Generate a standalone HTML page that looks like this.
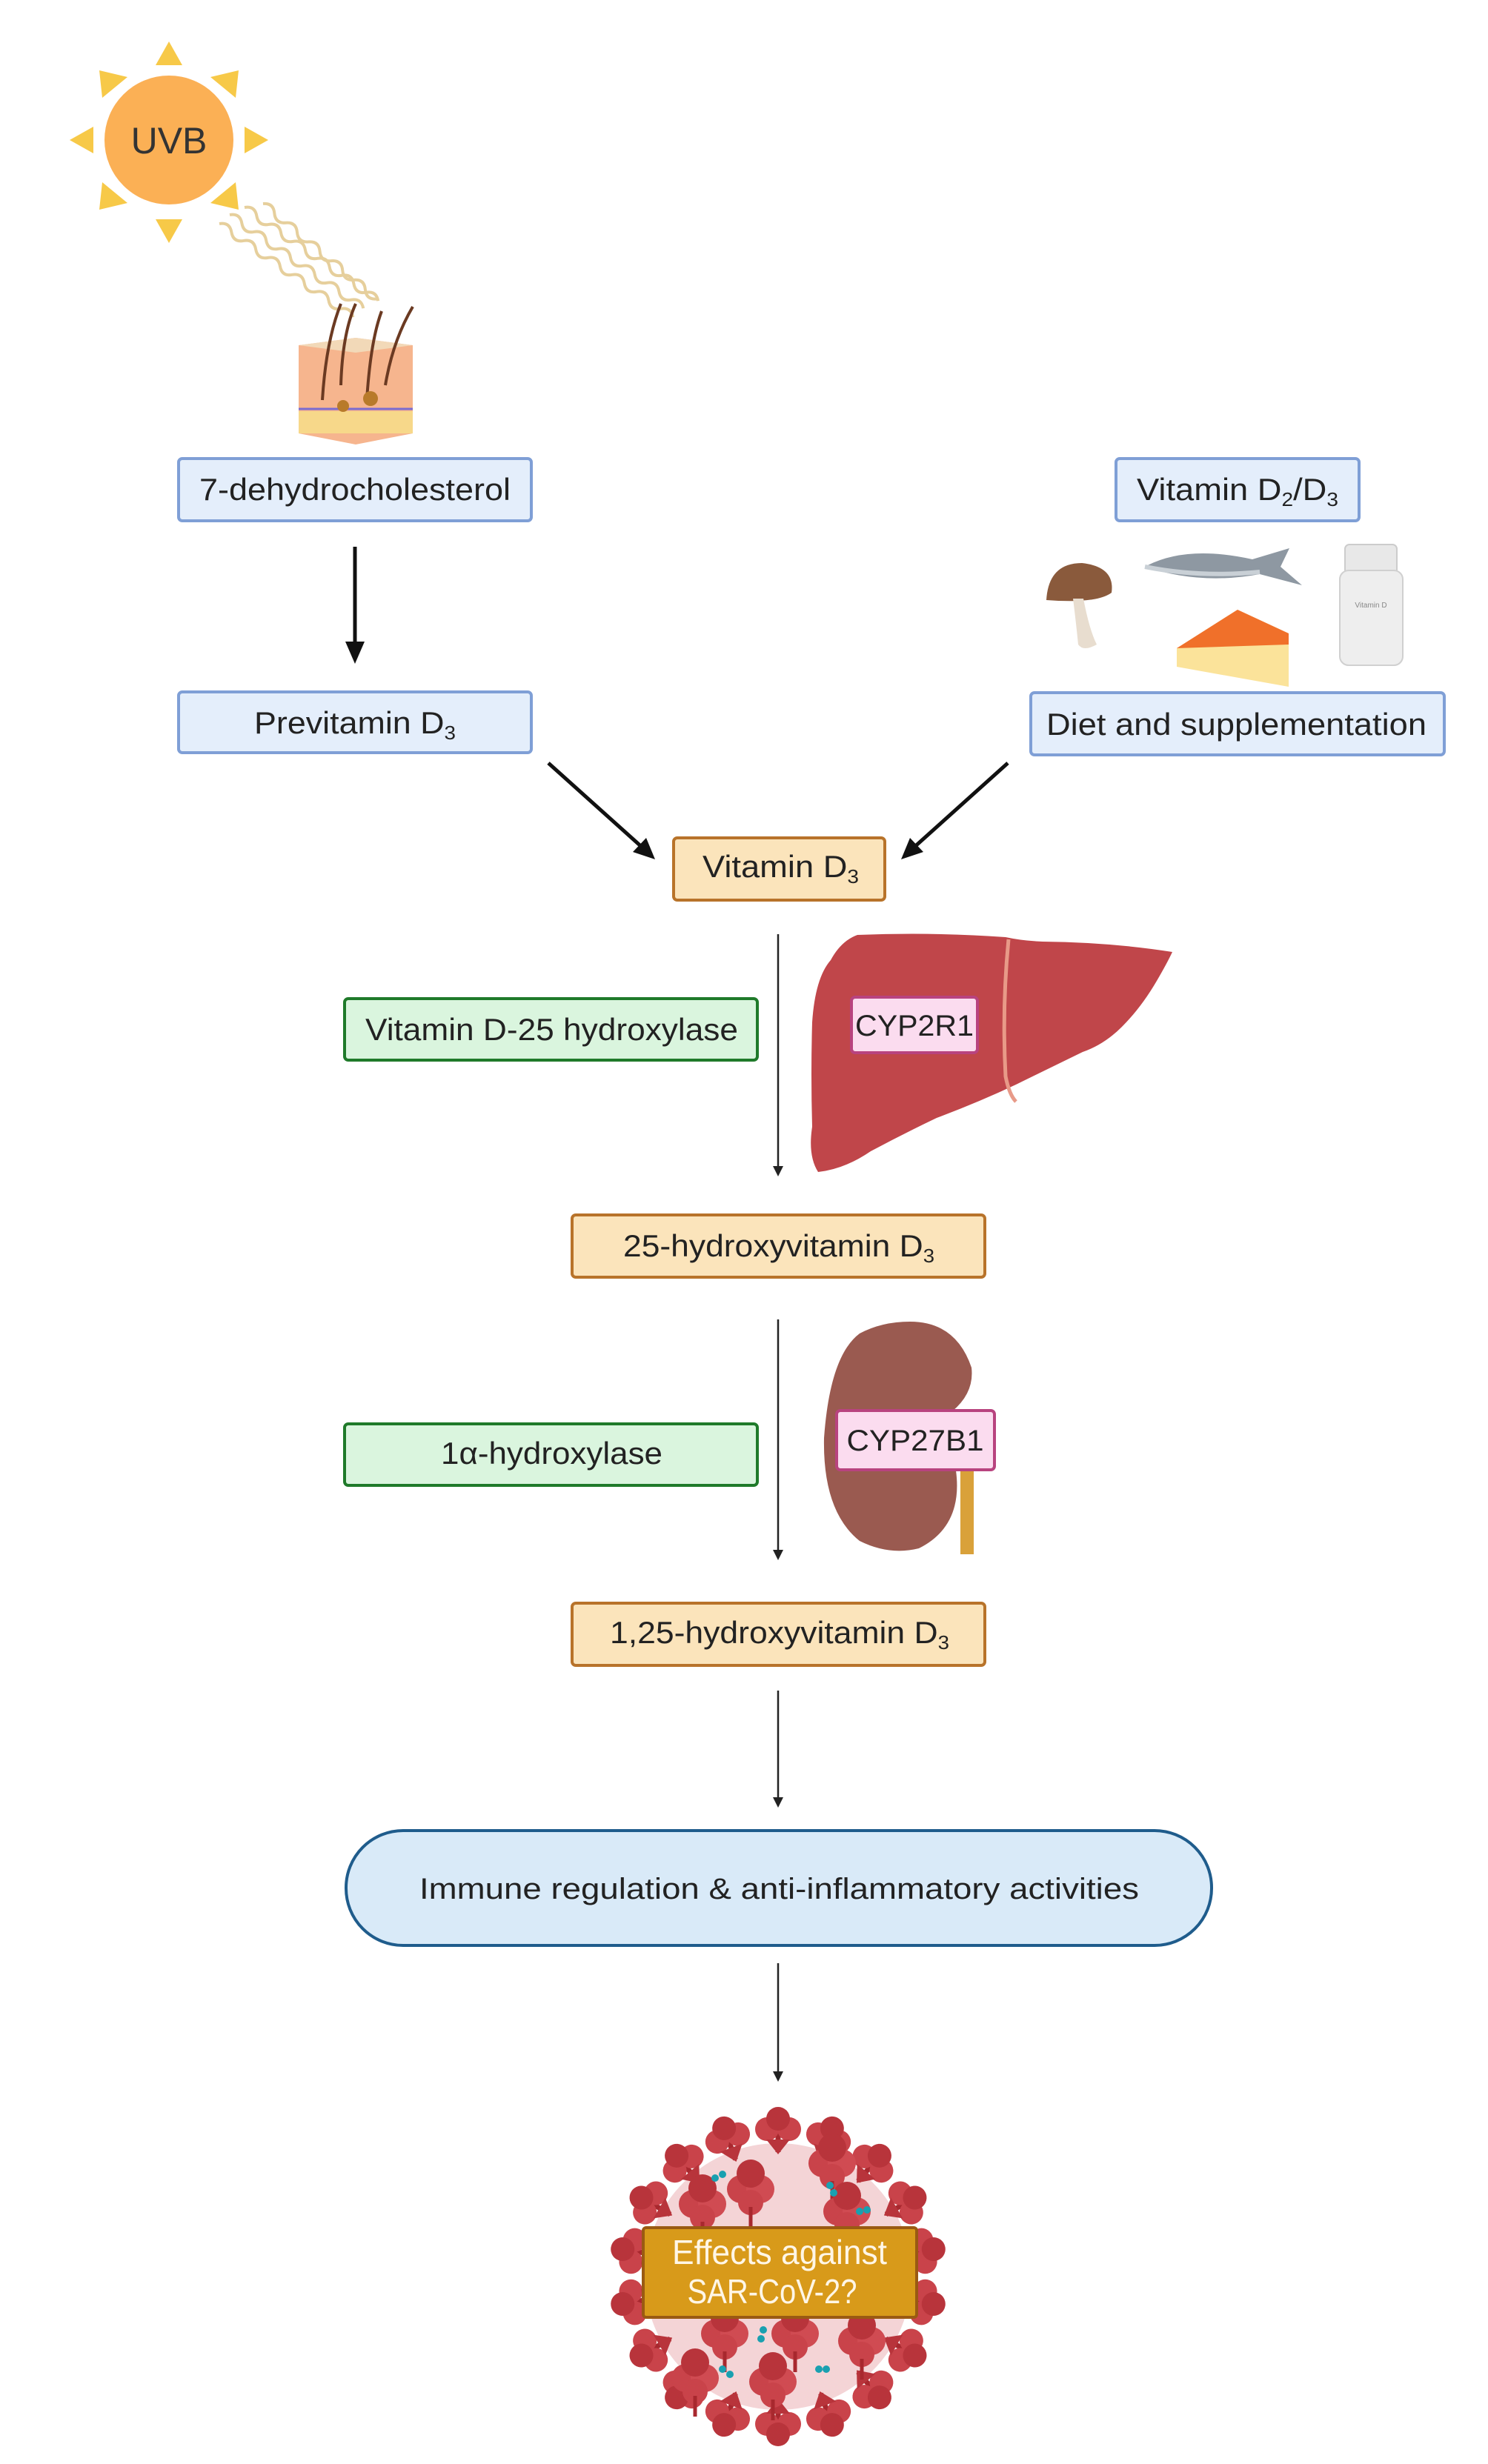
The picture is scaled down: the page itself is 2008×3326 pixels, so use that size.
<!DOCTYPE html>
<html><head><meta charset="utf-8"><style>
html,body{margin:0;padding:0;background:#fff;}
svg{display:block;}
text{font-family:"Liberation Sans",sans-serif;}
</style></head><body>
<svg width="2008" height="3326" viewBox="0 0 2008 3326" xmlns="http://www.w3.org/2000/svg">
<defs>
<g id="sp">
  <path d="M1050 2905 L1050 2872" stroke="#a8282e" stroke-width="7"/>
  <circle cx="1035" cy="2874" r="16" fill="#c9434a"/>
  <circle cx="1065" cy="2874" r="16" fill="#c9434a"/>
  <circle cx="1050" cy="2860" r="16" fill="#b8343b"/>
  <path d="M1034 2888 L1050 2908 L1066 2888 Z" fill="#b8343b"/>
</g>
<g id="cl">
  <circle cx="0" cy="0" r="19" fill="#c9434a"/>
  <circle cx="26" cy="0" r="19" fill="#d04b52"/>
  <circle cx="13" cy="-21" r="19" fill="#b8343b"/>
  <circle cx="13" cy="18" r="17" fill="#c9434a"/>
  <path d="M13 24 L13 52" stroke="#a8282e" stroke-width="5"/>
</g>
</defs>

<!-- Sun -->
<g fill="#f7c948">
  <polygon points="228,56 210,88 246,88"/>
  <polygon points="228,328 210,296 246,296"/>
  <polygon points="94,189 126,171 126,207"/>
  <polygon points="362,189 330,171 330,207"/>
  <polygon points="134,95 138,132 172,104"/>
  <polygon points="322,95 318,132 284,104"/>
  <polygon points="134,283 138,246 172,274"/>
  <polygon points="322,283 318,246 284,274"/>
</g>
<circle cx="228" cy="189" r="87" fill="#fbb055"/>
<text x="228" y="207" font-size="50" text-anchor="middle" style="fill:#333">UVB</text>

<!-- UV waves -->
<g fill="none" stroke="#e6cf9c" stroke-width="4">
  <path d="M296 302 q10 -10 20 0 t20 0 t20 0 t20 0 t20 0 t20 0 t20 0 t20 0 t20 0 t20 0 t20 0" transform="rotate(35 296 302)"/>
  <path d="M310 290 q10 -10 20 0 t20 0 t20 0 t20 0 t20 0 t20 0 t20 0 t20 0 t20 0 t20 0 t20 0" transform="rotate(35 310 290)"/>
  <path d="M330 280 q10 -10 20 0 t20 0 t20 0 t20 0 t20 0 t20 0 t20 0 t20 0 t20 0 t20 0 t20 0" transform="rotate(35 330 280)"/>
  <path d="M355 275 q10 -10 20 0 t20 0 t20 0 t20 0 t20 0 t20 0 t20 0 t20 0 t20 0 t20 0" transform="rotate(40 355 275)"/>
</g>

<!-- Skin -->
<polygon points="403,466 480,456 557,466 557,585 480,600 403,585" fill="#f6b58e"/>
<polygon points="403,466 480,456 557,466 480,476" fill="#f2d9b8"/>
<rect x="403" y="555" width="154" height="30" fill="#f7d88a"/>
<path d="M403 552 L557 552" stroke="#7a6ad0" stroke-width="3"/>
<g stroke="#6b3a22" stroke-width="4" fill="none">
  <path d="M435 540 Q440 460 460 410"/>
  <path d="M460 520 Q462 450 480 410"/>
  <path d="M495 540 Q500 460 515 420"/>
  <path d="M520 520 Q530 460 557 414"/>
</g>
<circle cx="463" cy="548" r="8" fill="#b87a2a"/>
<circle cx="500" cy="538" r="10" fill="#b87a2a"/>

<!-- Boxes -->
<g stroke-width="4">
  <rect x="241" y="619" width="476" height="84" rx="5" fill="#e4eefb" stroke="#7f9fd6"/>
  <rect x="1506" y="619" width="328" height="84" rx="5" fill="#e4eefb" stroke="#7f9fd6"/>
  <rect x="241" y="934" width="476" height="82" rx="5" fill="#e4eefb" stroke="#7f9fd6"/>
  <rect x="1391" y="935" width="558" height="84" rx="5" fill="#e4eefb" stroke="#7f9fd6"/>
  <rect x="909" y="1131" width="285" height="84" rx="5" fill="#fbe4bb" stroke="#b8732a"/>
  <rect x="465" y="1348" width="557" height="83" rx="5" fill="#daf5de" stroke="#1f7a2a"/>
  <rect x="772" y="1640" width="557" height="84" rx="5" fill="#fbe4bb" stroke="#b8732a"/>
  <rect x="465" y="1922" width="557" height="83" rx="5" fill="#daf5de" stroke="#1f7a2a"/>
  <rect x="772" y="2164" width="557" height="84" rx="5" fill="#fbe4bb" stroke="#b8732a"/>
  <rect x="467" y="2471" width="1168" height="155" rx="77" fill="#d9eaf8" stroke="#1f5c8c"/>
</g>

<g style="fill:#222">
<text x="479" y="675" font-size="42" text-anchor="middle" textLength="420" lengthAdjust="spacingAndGlyphs">7-dehydrocholesterol</text>
<text x="1534" y="675" font-size="42" textLength="272" lengthAdjust="spacingAndGlyphs">Vitamin D<tspan font-size="26" dy="8">2</tspan><tspan dy="-8">/D</tspan><tspan font-size="26" dy="8">3</tspan></text>
<text x="343" y="990" font-size="42" textLength="272" lengthAdjust="spacingAndGlyphs">Previtamin D<tspan font-size="26" dy="8">3</tspan></text>
<text x="1412" y="992" font-size="42" textLength="513" lengthAdjust="spacingAndGlyphs">Diet and supplementation</text>
<text x="948" y="1184" font-size="42" textLength="211" lengthAdjust="spacingAndGlyphs">Vitamin D<tspan font-size="26" dy="8">3</tspan></text>
<text x="493" y="1404" font-size="42" textLength="503" lengthAdjust="spacingAndGlyphs">Vitamin D-25 hydroxylase</text>
<text x="841" y="1696" font-size="42" textLength="420" lengthAdjust="spacingAndGlyphs">25-hydroxyvitamin D<tspan font-size="26" dy="8">3</tspan></text>
<text x="595" y="1976" font-size="42" textLength="299" lengthAdjust="spacingAndGlyphs">1α-hydroxylase</text>
<text x="823" y="2218" font-size="42" textLength="458" lengthAdjust="spacingAndGlyphs">1,25-hydroxyvitamin D<tspan font-size="26" dy="8">3</tspan></text>
<text x="566" y="2563" font-size="40" textLength="971" lengthAdjust="spacingAndGlyphs">Immune regulation &amp; anti-inflammatory activities</text>
</g>

<!-- Food icons -->
<path d="M1412 810 Q1415 760 1460 760 Q1505 765 1500 800 Q1480 815 1412 810 Z" fill="#8a5a3c"/>
<path d="M1448 808 L1462 808 Q1470 850 1480 870 Q1462 880 1455 870 Q1452 840 1448 808 Z" fill="#e8ddcf"/>
<path d="M1545 765 Q1600 735 1690 755 L1740 740 L1728 765 L1757 790 L1700 775 Q1620 790 1545 765 Z" fill="#8e98a2"/>
<path d="M1545 765 Q1620 780 1700 772" stroke="#c9d0d6" stroke-width="6" fill="none"/>
<path d="M1588 875 L1670 823 L1739 855 L1739 927 L1588 900 Z" fill="#fbe39a"/>
<path d="M1588 875 L1670 823 L1739 855 L1739 870 Z" fill="#f0702a"/>
<rect x="1815" y="735" width="70" height="40" rx="6" fill="#e8e8e8" stroke="#ccc" stroke-width="2"/>
<rect x="1808" y="770" width="85" height="128" rx="12" fill="#eeeeee" stroke="#d0d0d0" stroke-width="2"/>
<text x="1850" y="820" font-size="10" text-anchor="middle" style="fill:#888">Vitamin D</text>

<!-- Arrows -->
<line x1="479" y1="738" x2="479" y2="870" stroke="#111" stroke-width="5"/>
<polygon points="466,866 492,866 479,896" fill="#111"/>
<line x1="740" y1="1030" x2="868" y2="1145" stroke="#111" stroke-width="5"/>
<polygon points="884,1160 854,1150 872,1131" fill="#111"/>
<line x1="1360" y1="1030" x2="1232" y2="1145" stroke="#111" stroke-width="5"/>
<polygon points="1216,1160 1228,1131 1246,1150" fill="#111"/>
<g stroke="#222" stroke-width="2.5">
  <line x1="1050" y1="1261" x2="1050" y2="1578"/>
  <line x1="1050" y1="1781" x2="1050" y2="2096"/>
  <line x1="1050" y1="2282" x2="1050" y2="2430"/>
  <line x1="1050" y1="2650" x2="1050" y2="2798"/>
</g>
<g fill="#222">
  <polygon points="1043,1574 1057,1574 1050,1588"/>
  <polygon points="1043,2092 1057,2092 1050,2106"/>
  <polygon points="1043,2426 1057,2426 1050,2440"/>
  <polygon points="1043,2796 1057,2796 1050,2810"/>
</g>

<!-- Liver -->
<path d="M1157 1262 Q1260 1258 1357 1265 Q1380 1270 1407 1271 Q1500 1272 1582 1285 Q1575 1300 1561 1324 Q1540 1360 1514 1386 Q1490 1410 1461 1420 Q1420 1440 1371 1464 Q1320 1488 1264 1509 Q1220 1530 1175 1554 Q1140 1578 1104 1582 Q1090 1560 1096 1521 Q1094 1450 1096 1380 Q1100 1320 1121 1296 Q1135 1270 1157 1262 Z" fill="#c0464a"/>
<path d="M1361 1268 Q1352 1360 1357 1453 Q1362 1478 1371 1487" stroke="#e89a88" stroke-width="5" fill="none"/>
<rect x="1149" y="1346" width="170" height="75" rx="5" fill="#fbdcef" stroke="#b8437f" stroke-width="4"/>
<text x="1234" y="1398" font-size="40" text-anchor="middle" textLength="160" lengthAdjust="spacingAndGlyphs" style="fill:#222">CYP2R1</text>

<!-- Kidney -->
<rect x="1296" y="1980" width="18" height="118" fill="#d9a13a"/>
<path d="M1228 1784 Q1290 1784 1311 1846 Q1315 1880 1285 1905 Q1265 1935 1290 1985 Q1300 2060 1240 2090 Q1200 2100 1160 2080 Q1110 2040 1112 1941 Q1120 1830 1160 1800 Q1190 1784 1228 1784 Z" fill="#9a5a50"/>
<rect x="1129" y="1904" width="213" height="80" rx="5" fill="#fbdcef" stroke="#b8437f" stroke-width="4"/>
<text x="1235" y="1958" font-size="40" text-anchor="middle" textLength="185" lengthAdjust="spacingAndGlyphs" style="fill:#222">CYP27B1</text>

<!-- Virus -->
<circle cx="1050" cy="3073" r="180" fill="#f4d4d6"/>
<g>
  <use href="#sp" transform="rotate(0 1050 3073)"/>
  <use href="#sp" transform="rotate(20 1050 3073)"/>
  <use href="#sp" transform="rotate(40 1050 3073)"/>
  <use href="#sp" transform="rotate(60 1050 3073)"/>
  <use href="#sp" transform="rotate(80 1050 3073)"/>
  <use href="#sp" transform="rotate(100 1050 3073)"/>
  <use href="#sp" transform="rotate(120 1050 3073)"/>
  <use href="#sp" transform="rotate(140 1050 3073)"/>
  <use href="#sp" transform="rotate(160 1050 3073)"/>
  <use href="#sp" transform="rotate(180 1050 3073)"/>
  <use href="#sp" transform="rotate(200 1050 3073)"/>
  <use href="#sp" transform="rotate(220 1050 3073)"/>
  <use href="#sp" transform="rotate(240 1050 3073)"/>
  <use href="#sp" transform="rotate(260 1050 3073)"/>
  <use href="#sp" transform="rotate(280 1050 3073)"/>
  <use href="#sp" transform="rotate(300 1050 3073)"/>
  <use href="#sp" transform="rotate(320 1050 3073)"/>
  <use href="#sp" transform="rotate(340 1050 3073)"/>
</g>
<g>
  <use href="#cl" transform="translate(1000 2955)"/>
  <use href="#cl" transform="translate(1110 2920)"/>
  <use href="#cl" transform="translate(935 2975)"/>
  <use href="#cl" transform="translate(1130 2985)"/>
  <use href="#cl" transform="translate(965 3150)"/>
  <use href="#cl" transform="translate(1060 3150)"/>
  <use href="#cl" transform="translate(1150 3160)"/>
  <use href="#cl" transform="translate(1030 3215)"/>
  <use href="#cl" transform="translate(925 3210)"/>
</g>
<g fill="#1aa0b0">
  <circle cx="965" cy="2940" r="5"/><circle cx="975" cy="2935" r="5"/>
  <circle cx="1120" cy="2950" r="5"/><circle cx="1125" cy="2960" r="5"/>
  <circle cx="1160" cy="2985" r="5"/><circle cx="1170" cy="2983" r="5"/>
  <circle cx="1030" cy="3145" r="5"/><circle cx="1027" cy="3157" r="5"/>
  <circle cx="1105" cy="3198" r="5"/><circle cx="1115" cy="3198" r="5"/>
  <circle cx="975" cy="3198" r="5"/><circle cx="985" cy="3205" r="5"/>
</g>
<rect x="868" y="3007" width="369" height="121" rx="4" fill="#d89a1a" stroke="#9a5a12" stroke-width="4"/>
<text x="1052" y="3056" font-size="46" text-anchor="middle" style="fill:#fff6e6" textLength="290" lengthAdjust="spacingAndGlyphs">Effects against</text>
<text x="1042" y="3109" font-size="46" text-anchor="middle" style="fill:#fff6e6" textLength="229" lengthAdjust="spacingAndGlyphs">SAR-CoV-2?</text>
</svg>
</body></html>
